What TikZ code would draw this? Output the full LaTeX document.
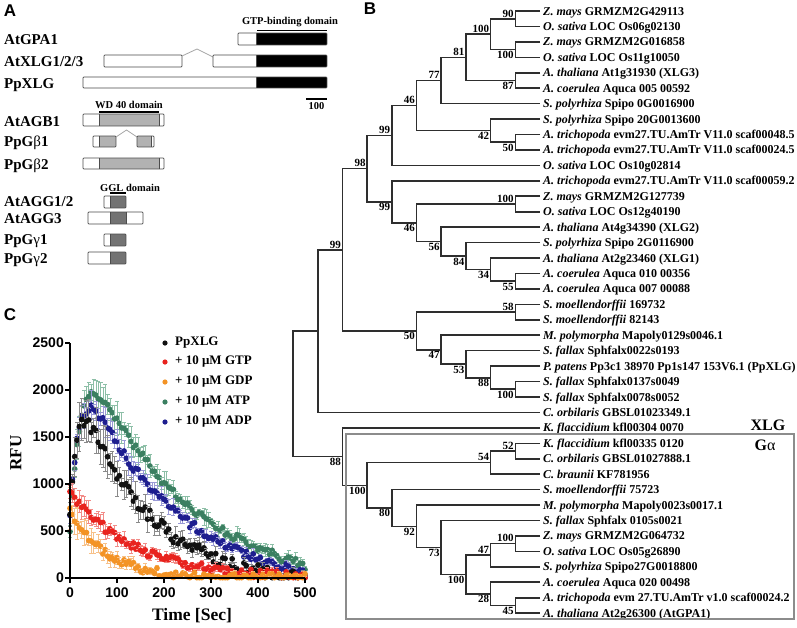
\documentclass[tikz,border=0pt]{standalone}
\usepackage{fontspec}
\setmainfont{Liberation Serif}
\newfontfamily\arialfont{Liberation Sans}
\usetikzlibrary{calc}
\definecolor{cblack}{HTML}{111111}
\definecolor{ebl}{HTML}{8A8A8A}
\definecolor{cred}{HTML}{E8231E}
\definecolor{ered}{HTML}{F28C88}
\definecolor{corg}{HTML}{F39325}
\definecolor{eorg}{HTML}{F7C18A}
\definecolor{cgrn}{HTML}{3B7F61}
\definecolor{egrn}{HTML}{8DBFA7}
\definecolor{cblu}{HTML}{1E1E8F}
\definecolor{eblu}{HTML}{9A9AD6}
\newcommand\inode[6]{%
  \path (#3) -- (#4) coordinate[pos=0.5] (#1m);
  \coordinate (#1) at (#1m -| L#2);
  \draw[br] (#3) -| (#1) |- (#4);
  \node[bs, anchor=#6] (#1lab) at (#1) {#5};
}
\newcommand\inodeN[4]{%
  \path (#3) -- (#4) coordinate[pos=0.5] (#1m);
  \coordinate (#1) at (#1m -| L#2);
  \draw[br] (#3) -| (#1) |- (#4);
}
\newcommand\series[6]{%
 \foreach \ti in {0,5,...,500}{
  \pgfmathsetmacro\vv{max(#3+#4*rand,4)}
  \pgfmathsetmacro\ee{(#5*\vv+#6)*(0.65+0.35*rand)}
  \pgfmathsetmacro\X{70+0.47*\ti}
  \pgfmathsetmacro\Ya{578-0.094*(\vv+\ee)}
  \pgfmathsetmacro\Yb{578-0.094*max(\vv-\ee,0)}
  \pgfmathsetmacro\Y{578-0.094*\vv}
  \draw[#2, line width=0.7pt] (\X,\Ya) -- (\X,\Yb) (\X-2,\Ya) -- (\X+2,\Ya) (\X-2,\Yb) -- (\X+2,\Yb);
  \fill[#1] (\X,\Y) circle (2.9);
 }
}
\begin{document}
\begin{tikzpicture}[x=1pt,y=-1pt,
  leaf/.style={anchor=base west, inner sep=0pt, font=\fontsize{12}{14}\selectfont\bfseries},
  bs/.style={inner sep=1.4pt, font=\fontsize{11}{13}\selectfont\bfseries},
  br/.style={draw=black!82, line width=1.6pt},
  alab/.style={anchor=base west, inner sep=0pt, font=\fontsize{15}{17}\selectfont\bfseries},
  dlab/.style={inner sep=0pt, font=\fontsize{10.5}{12}\selectfont\bfseries},
  abox/.style={draw=black!70, line width=0.75pt, rounded corners=0.8pt},
  gfill/.style={fill=black!30},
  dfill/.style={fill=black!55},
  intron/.style={draw=black!35, line width=0.8pt},
  panel/.style={inner sep=0pt, font=\fontsize{17}{19}\selectfont\arialfont\bfseries},
  tick/.style={inner sep=0pt, font=\fontsize{14}{16}\selectfont\arialfont\bfseries},
  leg/.style={anchor=west, inner sep=0pt, font=\fontsize{13}{15}\selectfont\bfseries},
  axisline/.style={line width=2.2pt, black}]
\fill[white] (0,0) rectangle (797,627);
\useasboundingbox (0,0) rectangle (797,627);

% ---------- panel letters
\node[panel] (pA) at (10,11) {A};
\node[panel] (pB) at (370,9) {B};
\node[panel] (pC) at (10,315) {C};

% ---------- panel A
\node[alab] (lGPA) at (4,44) {AtGPA1};
\node[alab] (lXLG) at (4,66) {AtXLG1/2/3};
\node[alab] (lPp) at (4,88) {PpXLG};
\node[alab] (lAGB) at (4,126) {AtAGB1};
\node[alab] (lGb1) at (4,146) {PpG{\mdseries β}1};
\node[alab] (lGb2) at (4,169) {PpG{\mdseries β}2};
\node[alab] (lAGG12) at (4,206) {AtAGG1/2};
\node[alab] (lAGG3) at (4,223) {AtAGG3};
\node[alab] (lGg1) at (4,244) {PpG{\mdseries γ}1};
\node[alab] (lGg2) at (4,263) {PpG{\mdseries γ}2};

\node[dlab] (tGTP) at (290,22) {GTP-binding domain};
\draw[line width=1.2pt] (257,30.5) -- (327,30.5);
% AtGPA1
\fill[black] (256,33) rectangle (327,45);
\draw[abox] (238,33) rectangle (327,45);
\draw[abox] (256,33) -- (256,45);
% AtXLG
\draw[abox] (104,55) rectangle (182,67);
\draw[intron] (182,56) -- (197,49) -- (213,57);
\fill[black] (256,55) rectangle (327,67);
\draw[abox] (213,55) rectangle (327,67);
\draw[abox] (256,55) -- (256,67);
% PpXLG
\fill[black] (256,77) rectangle (327,88);
\draw[abox] (83,77) rectangle (327,88);
\draw[abox] (256,77) -- (256,88);
% scale bar
\draw[line width=1.5pt] (306,99) -- (327,99);
\node[dlab] (t100) at (316.5,106) {100};

% AtAGB1
\node[dlab] (tWD) at (129,105) {WD 40 domain};
\draw[line width=1.2pt] (99,112) -- (159,112);
\fill[gfill] (99,114) rectangle (159,126);
\draw[abox] (83,114) rectangle (164,126);
\draw[abox] (99,114) -- (99,126) (159,114) -- (159,126);
% PpGb1
\fill[gfill] (99,136) rectangle (116,147);
\draw[abox] (93,136) rectangle (116,147);
\draw[abox] (99,136) -- (99,147);
\draw[intron] (116,137) -- (126.5,130) -- (137,137);
\fill[gfill] (137,136) rectangle (151,147);
\draw[abox] (137,136) rectangle (154,147);
\draw[abox] (151,136) -- (151,147);
% PpGb2
\fill[gfill] (99,158) rectangle (159,169);
\draw[abox] (83,158) rectangle (164,169);
\draw[abox] (99,158) -- (99,169) (159,158) -- (159,169);

% GGL
\node[dlab] (tGGL) at (130,187.5) {GGL domain};
\draw[line width=1.2pt] (110,193) -- (126,193);
\fill[dfill] (110,196) rectangle (126,208);
\draw[abox] (104,196) rectangle (126,208);
\draw[abox] (110,196) -- (110,208);
\fill[dfill] (110,212) rectangle (126,224);
\draw[abox] (88,212) rectangle (143,224);
\draw[abox] (110,212) -- (110,224) (126,212) -- (126,224);
\fill[dfill] (110,234) rectangle (126,246);
\draw[abox] (104,234) rectangle (126,246);
\draw[abox] (110,234) -- (110,246);
\fill[dfill] (110,252) rectangle (126,264);
\draw[abox] (88,252) rectangle (126,264);
\draw[abox] (110,252) -- (110,264);

% ---------- panel B tree
\foreach \k in {1,...,10} \coordinate (L\k) at ({540-24.7*\k},0);
\foreach \i/\s/\r in {
 1/Z. mays/GRMZM2G429113,
 2/O. sativa/LOC Os06g02130,
 3/Z. mays/GRMZM2G016858,
 4/O. sativa/LOC Os11g10050,
 5/A. thaliana/At1g31930 (XLG3),
 6/A. coerulea/Aquca 005 00592,
 7/S. polyrhiza/Spipo 0G0016900,
 8/S. polyrhiza/Spipo 20G0013600,
 9/A. trichopoda/evm27.TU.AmTr V11.0 scaf00048.5,
 10/A. trichopoda/evm27.TU.AmTr V11.0 scaf00024.5,
 11/O. sativa/LOC Os10g02814,
 12/A. trichopoda/evm27.TU.AmTr V11.0 scaf00059.2,
 13/Z. mays/GRMZM2G127739,
 14/O. sativa/LOC Os12g40190,
 15/A. thaliana/At4g34390 (XLG2),
 16/S. polyrhiza/Spipo 2G0116900,
 17/A. thaliana/At2g23460 (XLG1),
 18/A. coerulea/Aquca 010 00356,
 19/A. coerulea/Aquca 007 00088,
 20/S. moellendorffii/169732,
 21/S. moellendorffii/82143,
 22/M. polymorpha/Mapoly0129s0046.1,
 23/S. fallax/Sphfalx0022s0193,
 24/P. patens/Pp3c1 38970 Pp1s147 153V6.1 (PpXLG),
 25/S. fallax/Sphfalx0137s0049,
 26/S. fallax/Sphfalx0078s0052,
 27/C. orbilaris/GBSL01023349.1,
 28/K. flaccidium/kfl00304 0070,
 29/K. flaccidium/kfl00335 0120,
 30/C. orbilaris/GBSL01027888.1,
 31/C. braunii/KF781956,
 32/S. moellendorffii/75723,
 33/M. polymorpha/Mapoly0023s0017.1,
 34/S. fallax/Sphfalx 0105s0021,
 35/Z. mays/GRMZM2G064732,
 36/O. sativa/LOC Os05g26890,
 37/S. polyrhiza/Spipo27G0018800,
 38/A. coerulea/Aquca 020 00498,
 39/A. trichopoda/evm 27.TU.AmTr v1.0 scaf00024.2,
 40/A. thaliana/At2g26300 (AtGPA1)}{
  \coordinate (t\i) at (540,{11+15.44*(\i-1)});
  \node[leaf] (lab\i) at ($(t\i)+(3,4)$) {\textit{\s} \r};
}
\inode{a1}{1}{t1}{t2}{90}{south east}
\inode{a2b}{1}{t3}{t4}{100}{north east}
\inode{a2}{2}{a1}{a2b}{100}{south east}
\inode{a3c}{1}{t5}{t6}{87}{north east}
\inode{a3}{3}{a2}{a3c}{81}{south east}
\inode{a4}{4}{a3}{t7}{77}{south east}
\inode{b1}{1}{t9}{t10}{50}{north east}
\inode{b2}{2}{t8}{b1}{42}{north east}
\inode{a5}{5}{a4}{b2}{46}{south east}
\inode{a6}{6}{a5}{t11}{99}{south east}
\inode{c0}{1}{t18}{t19}{55}{north east}
\inode{c2}{2}{t17}{c0}{34}{north east}
\inode{c3}{3}{t16}{c2}{84}{north east}
\inode{c4}{4}{t15}{c3}{56}{north east}
\inode{c1}{1}{t13}{t14}{100}{south east}
\inode{c5}{5}{c1}{c4}{46}{north east}
\inode{c6}{6}{t12}{c5}{99}{north east}
\inode{a7}{7}{a6}{c6}{98}{south east}
\inode{d0}{1}{t20}{t21}{58}{south east}
\inode{dd}{1}{t25}{t26}{100}{north east}
\inode{d1}{2}{t24}{dd}{88}{north east}
\inode{d2}{3}{t23}{d1}{53}{north east}
\inode{d3}{4}{t22}{d2}{47}{north east}
\inode{d4}{5}{d0}{d3}{50}{north east}
\inode{a8}{8}{a7}{d4}{99}{south east}
\inodeN{r9}{9}{a8}{t27}
\inode{g52}{1}{t29}{t30}{52}{south east}
\inode{g54}{2}{g52}{t31}{54}{south east}
\inode{g100c}{1}{t35}{t36}{100}{south east}
\inode{g47}{2}{g100c}{t37}{47}{south east}
\inode{g45}{1}{t39}{t40}{45}{north east}
\inode{g28}{2}{t38}{g45}{28}{north east}
\inode{g100b}{3}{g47}{g28}{100}{north east}
\inode{g73}{4}{t34}{g100b}{73}{north east}
\inode{g92}{5}{t33}{g73}{92}{north east}
\inode{g80}{6}{t32}{g92}{80}{north east}
\inode{g100}{7}{g54}{g80}{100}{north east}
\inode{g88}{8}{t28}{g100}{88}{north east}
\inodeN{root}{10}{r9}{g88}

\draw[black!45, line width=1.2pt] (346,434) rectangle (794,619);
\node[inner sep=0pt, font=\fontsize{16}{18}\selectfont\bfseries] (xlg) at (768,425) {XLG};
\node[inner sep=0pt, font=\fontsize{16}{18}\selectfont\bfseries] (ga) at (765,445) {G{\mdseries α}};

% ---------- panel C plot
\pgfmathsetseed{7}
\series{cgrn}{egrn}{500*exp(max(-9,-\ti/10))+2780*(1-exp(max(-9,-\ti/22)))*exp(-\ti/210)-0.25*\ti}{45}{0.08}{50}
\series{cblu}{eblu}{700*exp(max(-9,-\ti/10))+2500*(1-exp(max(-9,-\ti/18)))*exp(-\ti/185)-0.2*\ti}{45}{0.07}{40}
\series{cblack}{ebl}{650*exp(max(-9,-\ti/10))+2300*(1-exp(max(-9,-\ti/14)))*exp(-\ti/140)-0.15*\ti}{70}{0.15}{50}
\series{cred}{ered}{920*exp(-\ti/135)}{45}{0.13}{35}
\series{corg}{eorg}{700*exp(-\ti/80)}{45}{0.3}{25}

% axes
\draw[axisline] (70,343) -- (70,578) -- (305,578);
\foreach \v/\yy in {0/578,500/531,1000/484,1500/437,2000/390,2500/343}{
  \draw[line width=2pt] (65,\yy) -- (70,\yy);
  \node[tick, anchor=east] (yt\v) at (64,\yy) {\v};
}
\foreach \v in {0,100,200,300,400,500}{
  \draw[line width=2pt] ({70+0.47*\v},578) -- ({70+0.47*\v},583);
  \node[tick] (xt\v) at ({70+0.47*\v},593) {\v};
}
\node[inner sep=0pt, rotate=90, font=\fontsize{17}{19}\selectfont\bfseries] (rfu) at (16,453) {RFU};
\node[inner sep=0pt, font=\fontsize{17.5}{19}\selectfont\bfseries] (time) at (192,616) {Time [Sec]};

% legend
\foreach \c/\yy/\txt in {cblack/343/PpXLG, cred/362/+ 10 μM GTP, corg/382/+ 10 μM GDP, cgrn/402/+ 10 μM ATP, cblu/422/+ 10 μM ADP}{
  \fill[\c] (165,\yy) circle (2.6);
  \node[leg] (leg\yy) at (175,\yy) {\txt};
}
\end{tikzpicture}
\end{document}
